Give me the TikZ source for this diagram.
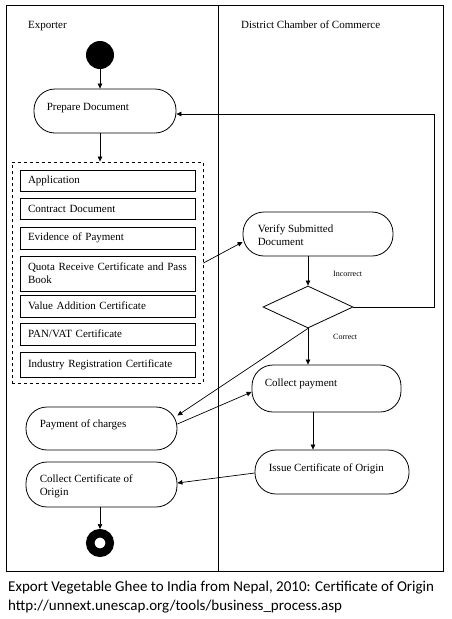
\documentclass[tikz,border=0pt]{standalone}
\usepackage{fontspec}
\setmainfont{Liberation Serif}
\newfontfamily\capfont{Carlito}
\usetikzlibrary{arrows.meta,shapes.geometric,calc}
\begin{document}
\begin{tikzpicture}[x=1pt,y=-1pt,
  every node/.style={font=\fontsize{11}{13}\selectfont},
  lane/.style={draw, line width=0.8pt, inner sep=0pt},
  actbox/.style={draw, line width=0.8pt, rounded corners=21pt, inner sep=0pt},
  acttext/.style={anchor=north west, inner sep=0pt, align=left},
  docbox/.style={draw, line width=0.9pt, minimum width=175pt, text width=159pt, inner xsep=8pt, inner ysep=0pt, align=left},
  dashbox/.style={draw, dashed, line width=1pt, inner sep=0pt},
  flow/.style={line width=0.7pt, -{Triangle[length=5pt,width=4.5pt]}},
  lab/.style={font=\fontsize{8}{9}\selectfont, anchor=west, inner sep=0pt},
  head/.style={anchor=base west, inner sep=0pt},
  captext/.style={anchor=base west, inner sep=0pt, font=\capfont\fontsize{15}{18}\selectfont}
]
\useasboundingbox (0,0) rectangle (451,619);
\fill[white] (0,0) rectangle (451,619);

% swimlanes
\node[lane, minimum width=212pt, minimum height=566pt] (laneA) at (112,288) {};
\node[lane, minimum width=225pt, minimum height=566pt] (laneB) at (330.5,288) {};
\node[head] (hA) at (28,28) {Exporter};
\node[head] (hB) at (241,28) {District Chamber of Commerce};

% start / end
\node[circle, fill=black, minimum size=28pt, inner sep=0pt] (start) at (100,55) {};
\node[circle, draw=black, fill=white, line width=8.5pt, minimum size=19.5pt, inner sep=0pt] (end) at (100,543) {};

% activities
\node[actbox, minimum width=142pt, minimum height=44pt] (prep) at (105,111) {};
\node[acttext] (prept) at ([shift={(13,14)}]prep.north west) {Prepare Document};

\node[actbox, minimum width=150pt, minimum height=44pt] (verify) at (318,234) {};
\node[acttext] (verifyt) at ([shift={(15,12.5)}]verify.north west) {Verify Submitted\\Document};

\node[actbox, minimum width=149pt, minimum height=47pt] (pay) at (326.5,388.5) {};
\node[acttext] (payt) at ([shift={(13,14)}]pay.north west) {Collect payment};

\node[actbox, minimum width=154pt, minimum height=44pt] (issue) at (332,472) {};
\node[acttext] (issuet) at ([shift={(14,14)}]issue.north west) {Issue Certificate of Origin};

\node[actbox, minimum width=151pt, minimum height=43pt] (charges) at (101.5,428.5) {};
\node[acttext] (chargest) at ([shift={(14,13)}]charges.north west) {Payment of charges};

\node[actbox, minimum width=151pt, minimum height=45pt] (cert) at (101.5,484.5) {};
\node[acttext] (certt) at ([shift={(14,12.5)}]cert.north west) {Collect Certificate of\\Origin};

% decision
\node[diamond, draw, line width=0.8pt, minimum width=90pt, minimum height=42pt, inner sep=0pt] (dia) at (308,307) {};
\node[lab] (linc) at (333,274) {Incorrect};
\node[lab] (lcor) at (333,337) {Correct};

% documents
\node[dashbox, minimum width=191pt, minimum height=221pt] (dash) at (107.5,272.5) {};
\node[docbox, minimum height=21pt] (d1) at (107.5,180.5) {Application};
\node[docbox, minimum height=21pt] (d2) at (107.5,208.5) {Contract Document};
\node[docbox, minimum height=22pt] (d3) at (107.5,238) {Evidence of Payment};
\node[docbox, minimum height=35pt] (d4) at (107.5,273.5) {Quota Receive Certificate and Pass\\Book};
\node[docbox, minimum height=22pt] (d5) at (107.5,306) {Value Addition Certificate};
\node[docbox, minimum height=22pt] (d6) at (107.5,334) {PAN/VAT Certificate};
\node[docbox, minimum height=25pt] (d7) at (107.5,364.5) {Industry Registration Certificate};

% connectors
\draw[flow] (start.south) -- (start.south |- prep.north);
\draw[flow] (start |- prep.south) -- (start |- dash.north);
\draw[flow] ([yshift=9.5pt]dash.east) -- ([yshift=-8pt]verify.west);
\draw[flow] (dia |- verify.south) -- (dia.north);
\coordinate (loop) at (434,307);
\draw[flow] (dia.east) -- (loop) |- ([yshift=-3pt]prep.east);
\draw[flow] (dia.south) -- (dia.south |- pay.north);
\draw[flow] (dia.south) -- ([yshift=13pt]charges.east);
\draw[flow] ([yshift=4.5pt]charges.east) -- ([yshift=-3.5pt]pay.west);
\coordinate (px) at ([xshift=-13.5pt]pay.south);
\draw[flow] (px) -- (px |- issue.north);
\draw[flow] ([yshift=-1pt]issue.west) -- ([yshift=1.5pt]cert.east);
\draw[flow] (end |- cert.south) -- (end.north);

% caption
\node[captext] (cap1) at (8,591) {Export Vegetable Ghee to India from Nepal, 2010: Certificate of Origin};
\node[captext] (cap2) at (8,610) {http://unnext.unescap.org/tools/business\_process.asp};
\end{tikzpicture}
\end{document}
